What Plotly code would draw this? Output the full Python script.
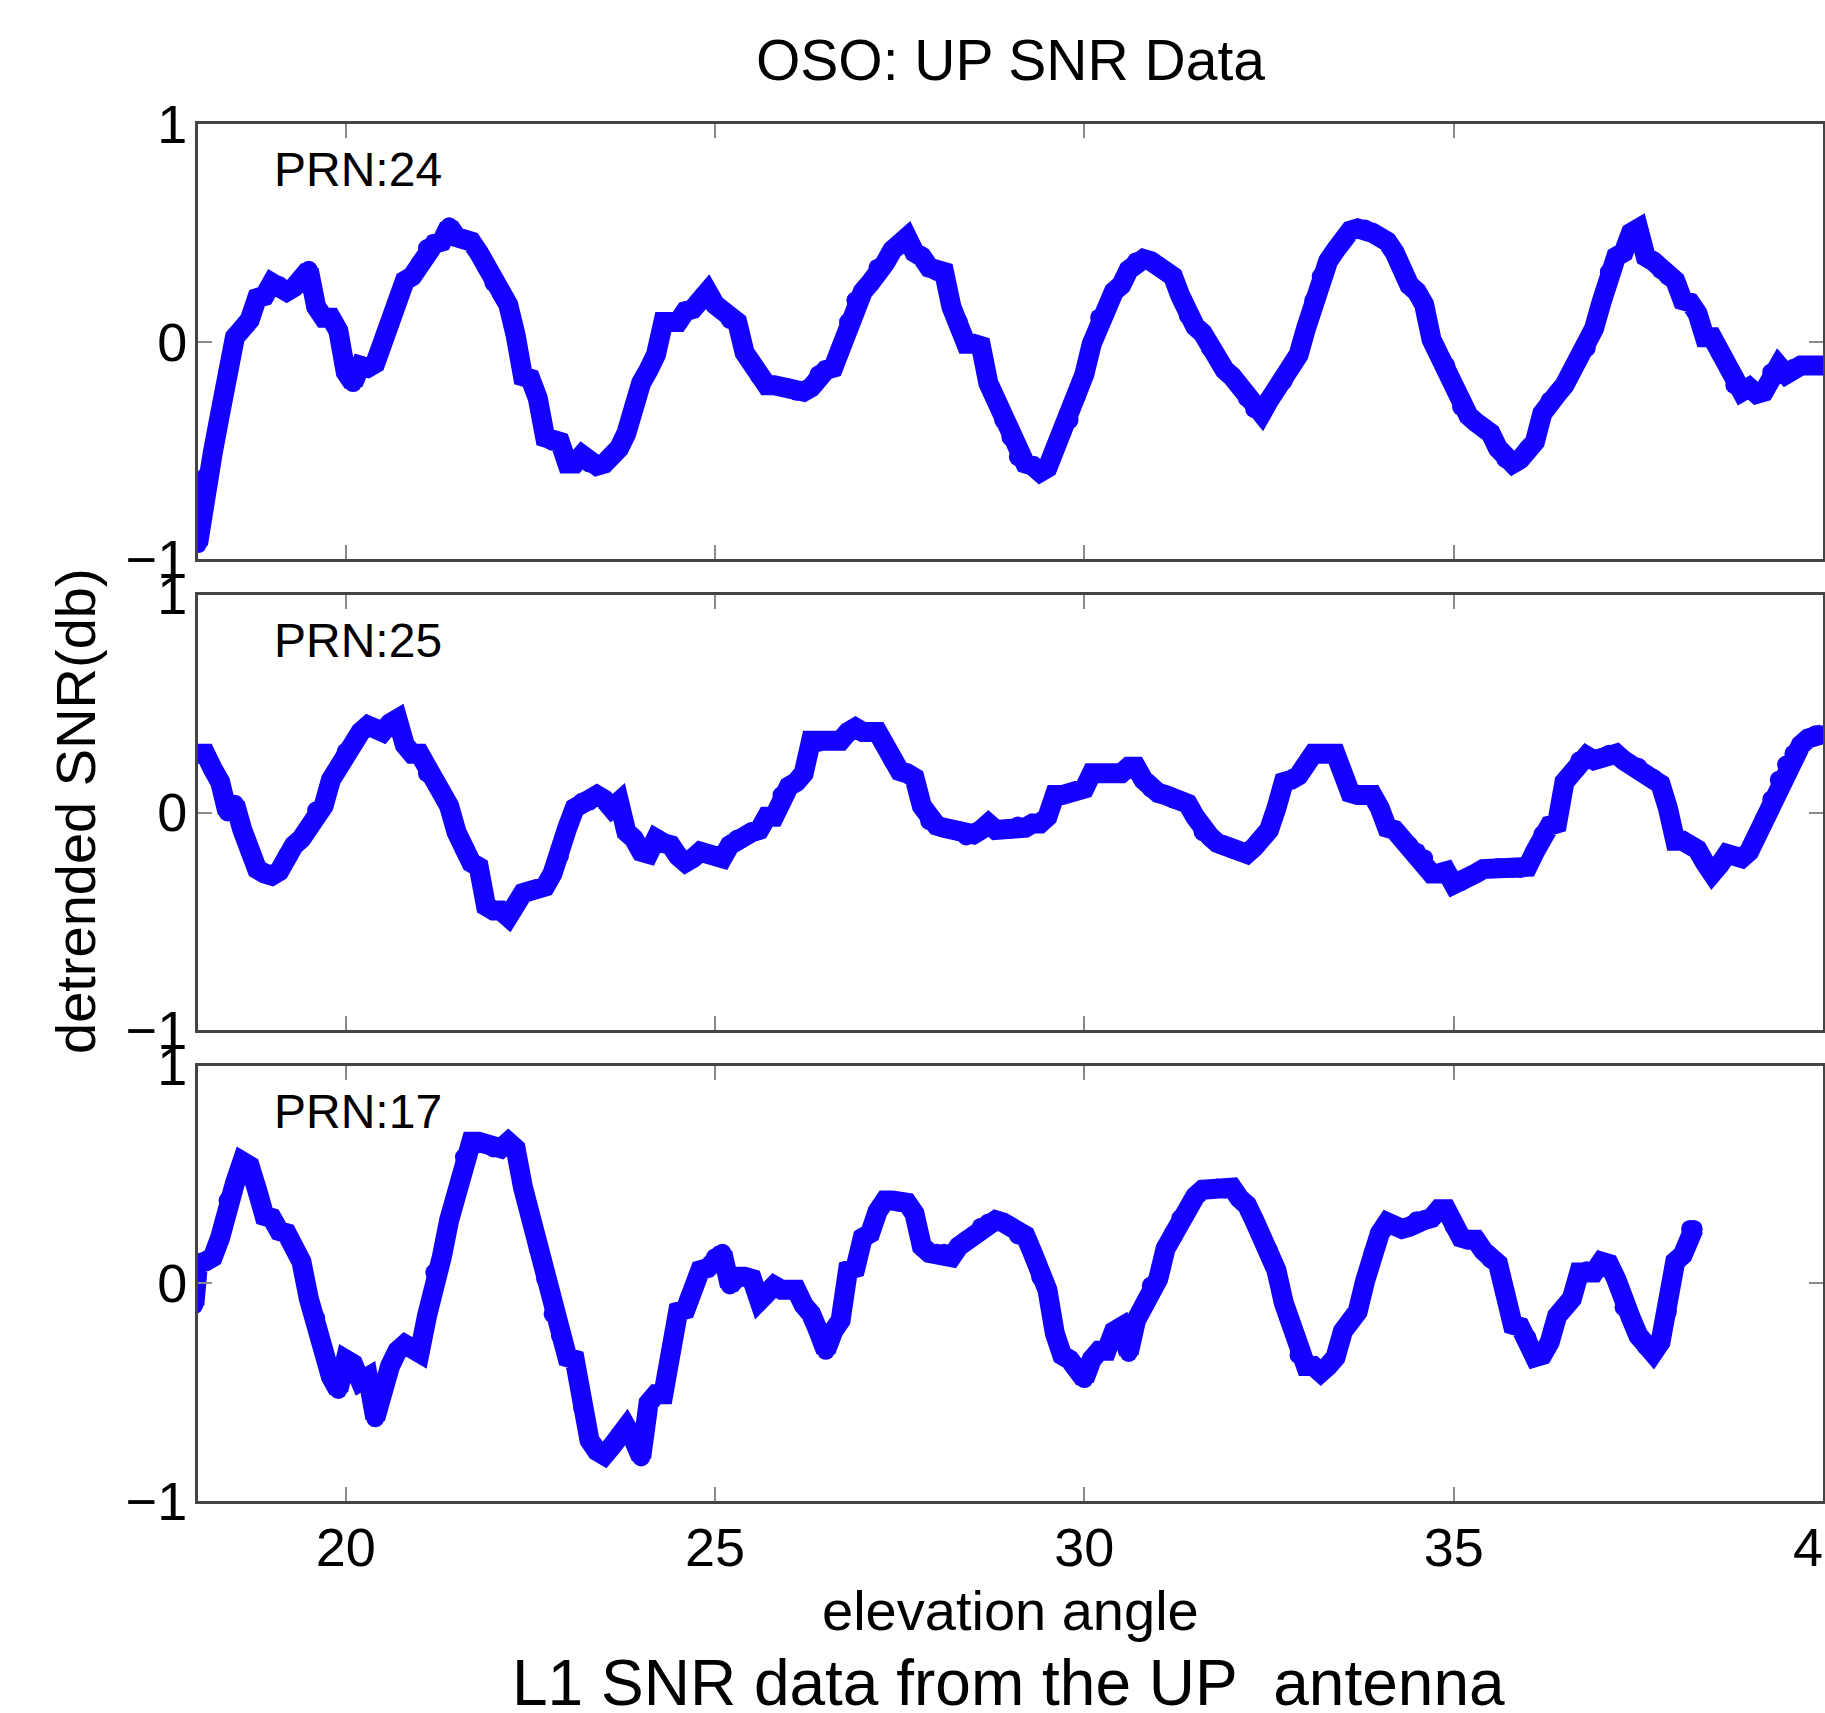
import plotly.graph_objects as go
from plotly.subplots import make_subplots

elev = [
    18.0, 18.1, 18.2, 18.3, 18.4, 18.5, 18.6, 18.7, 18.8, 18.9,
    19.0, 19.1, 19.2, 19.3, 19.4, 19.5, 19.6, 19.7, 19.8, 19.9,
    20.0, 20.1, 20.2, 20.3, 20.4, 20.5, 20.6, 20.7, 20.8, 20.9,
    21.0, 21.1, 21.2, 21.3, 21.4, 21.5, 21.6, 21.7, 21.8, 21.9,
    22.0, 22.1, 22.2, 22.3, 22.4, 22.5, 22.6, 22.7, 22.8, 22.9,
    23.0, 23.1, 23.2, 23.3, 23.4, 23.5, 23.6, 23.7, 23.8, 23.9,
    24.0, 24.1, 24.2, 24.3, 24.4, 24.5, 24.6, 24.7, 24.8, 24.9,
    25.0, 25.1, 25.2, 25.3, 25.4, 25.5, 25.6, 25.7, 25.8, 25.9,
    26.0, 26.1, 26.2, 26.3, 26.4, 26.5, 26.6, 26.7, 26.8, 26.9,
    27.0, 27.1, 27.2, 27.3, 27.4, 27.5, 27.6, 27.7, 27.8, 27.9,
    28.0, 28.1, 28.2, 28.3, 28.4, 28.5, 28.6, 28.7, 28.8, 28.9,
    29.0, 29.1, 29.2, 29.3, 29.4, 29.5, 29.6, 29.7, 29.8, 29.9,
    30.0, 30.1, 30.2, 30.3, 30.4, 30.5, 30.6, 30.7, 30.8, 30.9,
    31.0, 31.1, 31.2, 31.3, 31.4, 31.5, 31.6, 31.7, 31.8, 31.9,
    32.0, 32.1, 32.2, 32.3, 32.4, 32.5, 32.6, 32.7, 32.8, 32.9,
    33.0, 33.1, 33.2, 33.3, 33.4, 33.5, 33.6, 33.7, 33.8, 33.9,
    34.0, 34.1, 34.2, 34.3, 34.4, 34.5, 34.6, 34.7, 34.8, 34.9,
    35.0, 35.1, 35.2, 35.3, 35.4, 35.5, 35.6, 35.7, 35.8, 35.9,
    36.0, 36.1, 36.2, 36.3, 36.4, 36.5, 36.6, 36.7, 36.8, 36.9,
    37.0, 37.1, 37.2, 37.3, 37.4, 37.5, 37.6, 37.7, 37.8, 37.9,
    38.0, 38.1, 38.2, 38.3, 38.4, 38.5, 38.6, 38.7, 38.8, 38.9,
    39.0, 39.1, 39.2, 39.3, 39.4, 39.5, 39.6, 39.7, 39.8, 39.9,
    40.0,
]

# detrended SNR (dB), PRN 24
snr_24 = [
    -0.93, -0.62, -0.51, -0.33, -0.13, 0.02, 0.06, 0.10, 0.20, 0.21,
    0.27, 0.26, 0.23, 0.25, 0.29, 0.33, 0.16, 0.11, 0.11, 0.05,
    -0.14, -0.19, -0.11, -0.12, -0.10, -0.01, 0.08, 0.19, 0.28, 0.30,
    0.36, 0.43, 0.45, 0.46, 0.53, 0.48, 0.47, 0.46, 0.41, 0.34,
    0.27, 0.22, 0.17, 0.03, -0.16, -0.17, -0.26, -0.44, -0.46, -0.46,
    -0.56, -0.56, -0.52, -0.56, -0.57, -0.56, -0.53, -0.49, -0.42, -0.29,
    -0.19, -0.13, -0.06, 0.09, 0.09, 0.09, 0.14, 0.15, 0.19, 0.23,
    0.17, 0.14, 0.10, 0.09, -0.05, -0.10, -0.16, -0.20, -0.20, -0.21,
    -0.21, -0.23, -0.23, -0.21, -0.15, -0.13, -0.12, -0.03, 0.09, 0.19,
    0.23, 0.27, 0.34, 0.36, 0.42, 0.45, 0.48, 0.41, 0.39, 0.34,
    0.32, 0.32, 0.16, 0.09, -0.01, -0.01, -0.02, -0.19, -0.27, -0.36,
    -0.44, -0.53, -0.56, -0.57, -0.60, -0.58, -0.50, -0.42, -0.36, -0.25,
    -0.15, -0.01, 0.11, 0.15, 0.23, 0.26, 0.33, 0.37, 0.38, 0.37,
    0.35, 0.32, 0.30, 0.21, 0.12, 0.07, 0.04, -0.03, -0.07, -0.13,
    -0.16, -0.20, -0.26, -0.31, -0.33, -0.27, -0.22, -0.18, -0.12, -0.06,
    0.06, 0.19, 0.30, 0.37, 0.42, 0.47, 0.51, 0.52, 0.52, 0.50,
    0.48, 0.46, 0.41, 0.33, 0.26, 0.23, 0.17, 0.01, -0.06, -0.11,
    -0.20, -0.30, -0.34, -0.37, -0.39, -0.42, -0.49, -0.54, -0.56, -0.54,
    -0.49, -0.46, -0.33, -0.27, -0.24, -0.20, -0.14, -0.08, -0.03, 0.06,
    0.18, 0.32, 0.39, 0.41, 0.50, 0.52, 0.39, 0.37, 0.33, 0.30,
    0.28, 0.19, 0.18, 0.13, 0.02, 0.02, -0.05, -0.11, -0.20, -0.23,
    -0.21, -0.24, -0.23, -0.14, -0.11, -0.15, -0.12, -0.11, -0.11, -0.11,
    -0.11,
]

# detrended SNR (dB), PRN 25
snr_25 = [
    0.27, 0.27, 0.20, 0.14, 0.00, 0.04, -0.08, -0.18, -0.26, -0.28,
    -0.29, -0.27, -0.20, -0.15, -0.12, -0.07, 0.01, 0.03, 0.15, 0.21,
    0.28, 0.31, 0.37, 0.40, 0.39, 0.37, 0.41, 0.43, 0.31, 0.27,
    0.27, 0.18, 0.15, 0.09, 0.03, -0.09, -0.17, -0.23, -0.25, -0.43,
    -0.45, -0.45, -0.48, -0.42, -0.37, -0.36, -0.35, -0.34, -0.28, -0.20,
    -0.07, 0.02, 0.05, 0.05, 0.08, 0.06, 0.02, 0.05, -0.09, -0.12,
    -0.18, -0.19, -0.12, -0.14, -0.15, -0.20, -0.23, -0.21, -0.18, -0.19,
    -0.20, -0.21, -0.15, -0.12, -0.11, -0.09, -0.08, -0.02, -0.02, 0.08,
    0.12, 0.14, 0.18, 0.33, 0.32, 0.33, 0.33, 0.33, 0.37, 0.39,
    0.37, 0.37, 0.37, 0.31, 0.24, 0.19, 0.18, 0.16, 0.03, -0.04,
    -0.06, -0.07, -0.08, -0.08, -0.11, -0.10, -0.08, -0.05, -0.08, -0.08,
    -0.08, -0.06, -0.07, -0.05, -0.05, -0.02, 0.08, 0.08, 0.09, 0.10,
    0.11, 0.18, 0.18, 0.18, 0.18, 0.18, 0.21, 0.21, 0.15, 0.11,
    0.09, 0.08, 0.06, 0.05, 0.04, -0.02, -0.09, -0.11, -0.14, -0.15,
    -0.17, -0.18, -0.19, -0.16, -0.12, -0.08, 0.02, 0.14, 0.15, 0.17,
    0.22, 0.27, 0.27, 0.27, 0.27, 0.18, 0.09, 0.08, 0.08, 0.08,
    0.02, -0.07, -0.08, -0.12, -0.15, -0.18, -0.21, -0.28, -0.28, -0.27,
    -0.33, -0.32, -0.30, -0.28, -0.26, -0.26, -0.25, -0.26, -0.26, -0.26,
    -0.25, -0.18, -0.10, -0.06, -0.05, 0.14, 0.18, 0.24, 0.26, 0.24,
    0.25, 0.27, 0.27, 0.24, 0.22, 0.21, 0.18, 0.16, 0.13, 0.02,
    -0.13, -0.13, -0.15, -0.17, -0.23, -0.28, -0.24, -0.19, -0.20, -0.21,
    -0.18, -0.11, -0.03, 0.06, 0.15, 0.22, 0.27, 0.31, 0.34, 0.36,
    0.36,
]

# PRN 17 track is shorter: starts just below 18 and stops near 38.25
elev_17 = [17.95] + elev[:203] + [38.25]
snr_17 = [
    -0.10,
    0.09, 0.10, 0.12, 0.21, 0.38, 0.46, 0.56, 0.54, 0.43, 0.31,
    0.30, 0.24, 0.23, 0.17, 0.10, -0.07, -0.16, -0.31, -0.43, -0.49,
    -0.35, -0.37, -0.45, -0.43, -0.62, -0.48, -0.38, -0.31, -0.28, -0.30,
    -0.32, -0.15, 0.05, 0.12, 0.29, 0.42, 0.58, 0.65, 0.65, 0.64,
    0.62, 0.62, 0.65, 0.62, 0.44, 0.31, 0.16, 0.02, -0.14, -0.24,
    -0.34, -0.35, -0.57, -0.72, -0.77, -0.79, -0.75, -0.70, -0.66, -0.72,
    -0.80, -0.55, -0.51, -0.51, -0.30, -0.13, -0.12, -0.03, 0.06, 0.07,
    0.12, 0.14, -0.01, 0.03, 0.03, 0.02, -0.08, -0.05, -0.01, -0.03,
    -0.03, -0.03, -0.10, -0.14, -0.22, -0.31, -0.22, -0.17, 0.06, 0.07,
    0.21, 0.23, 0.33, 0.38, 0.38, 0.37, 0.37, 0.32, 0.17, 0.14,
    0.14, 0.14, 0.12, 0.17, 0.20, 0.22, 0.26, 0.28, 0.29, 0.28,
    0.26, 0.22, 0.22, 0.14, 0.03, -0.03, -0.23, -0.33, -0.35, -0.40,
    -0.44, -0.35, -0.31, -0.31, -0.22, -0.20, -0.32, -0.17, -0.10, -0.01,
    0.02, 0.16, 0.23, 0.30, 0.34, 0.40, 0.43, 0.43, 0.44, 0.43,
    0.44, 0.39, 0.36, 0.29, 0.22, 0.15, 0.06, -0.09, -0.19, -0.33,
    -0.38, -0.38, -0.41, -0.38, -0.34, -0.22, -0.17, -0.13, 0.01, 0.14,
    0.23, 0.28, 0.26, 0.25, 0.26, 0.29, 0.29, 0.30, 0.34, 0.34,
    0.26, 0.21, 0.20, 0.20, 0.15, 0.11, 0.09, -0.05, -0.19, -0.20,
    -0.25, -0.34, -0.33, -0.27, -0.15, -0.11, -0.07, 0.05, 0.06, 0.05,
    0.10, 0.09, 0.02, -0.11, -0.16, -0.24, -0.29, -0.32, -0.27, -0.13,
    0.10, 0.13, 0.25,
    0.25,
]

panels = [("PRN:24", elev, snr_24), ("PRN:25", elev, snr_25), ("PRN:17", elev_17, snr_17)]
x_ticks = [20, 25, 30, 35, 40]
y_ticks = [-1, 0, 1]
y_ticktext = ["\u22121", "0", "1"]

W, H = 1825, 1713
ML, MR, MT, MB = 198, 2, 124, 212
FONT = "Liberation Sans, Arial, Helvetica, sans-serif"
BLUE = "#1400ff"


def px(x):
    return (x - ML) / (W - ML - MR)


def py(y):
    return 1 - (y - MT) / (H - MT - MB)


fig = make_subplots(rows=3, cols=1, shared_xaxes=True, vertical_spacing=35.5 / (H - MT - MB))

for i, (name, xs, ys) in enumerate(panels, start=1):
    fig.add_trace(go.Scatter(x=xs, y=ys, mode="lines+markers",
                             line=dict(color=BLUE, width=20),
                             marker=dict(color=BLUE, size=18),
                             showlegend=False), row=i, col=1)
    fig.add_annotation(x=19.0, y=0.79, xref=f"x{i}" if i > 1 else "x", yref=f"y{i}" if i > 1 else "y",
                       text=name, showarrow=False, xanchor="left", yanchor="middle",
                       font=dict(size=48, color="black", family=FONT))

fig.update_xaxes(range=[18, 40], tickvals=x_ticks, showgrid=False, zeroline=False,
                 showline=True, mirror="ticks", linecolor="#444444", linewidth=3,
                 ticks="inside", ticklen=14, tickwidth=2, tickcolor="#8a8a8a",
                 ticklabeloverflow="allow", automargin=False,
                 tickfont=dict(size=54, color="black", family=FONT), ticklabelstandoff=-3)
fig.update_yaxes(range=[-1, 1], tickvals=y_ticks, ticktext=y_ticktext, showgrid=False, zeroline=False,
                 showline=True, mirror="ticks", linecolor="#444444", linewidth=3,
                 ticks="inside", ticklen=14, tickwidth=2, tickcolor="#8a8a8a", automargin=False,
                 tickfont=dict(size=54, color="black", family=FONT), ticklabelstandoff=-3)

# titles and captions placed as in the figure
fig.add_annotation(x=px(1010), y=py(60), xref="paper", yref="paper", text="OSO: UP SNR Data",
                   showarrow=False, xanchor="center", yanchor="middle",
                   font=dict(size=57, color="black", family=FONT))
fig.add_annotation(x=px(76), y=py(811), xref="paper", yref="paper", text="detrended SNR(db)",
                   textangle=-90, showarrow=False, xanchor="center", yanchor="middle",
                   font=dict(size=56, color="black", family=FONT))
fig.add_annotation(x=px(1010), y=py(1610), xref="paper", yref="paper", text="elevation angle",
                   showarrow=False, xanchor="center", yanchor="middle",
                   font=dict(size=56, color="black", family=FONT))
fig.add_annotation(x=px(1008), y=py(1683), xref="paper", yref="paper",
                   text="L1 SNR data from the UP\u00a0\u00a0antenna",
                   showarrow=False, xanchor="center", yanchor="middle",
                   font=dict(size=64, color="black", family=FONT))

fig.update_layout(width=W, height=H, margin=dict(l=ML, r=MR, t=MT, b=MB, autoexpand=False),
                  paper_bgcolor="white", plot_bgcolor="white", showlegend=False)

# drop the browser's default body margin so the figure sits at the page corner
fig.write_html("out.html", config={"displayModeBar": False},
               post_script="document.body.style.margin='0px';")
